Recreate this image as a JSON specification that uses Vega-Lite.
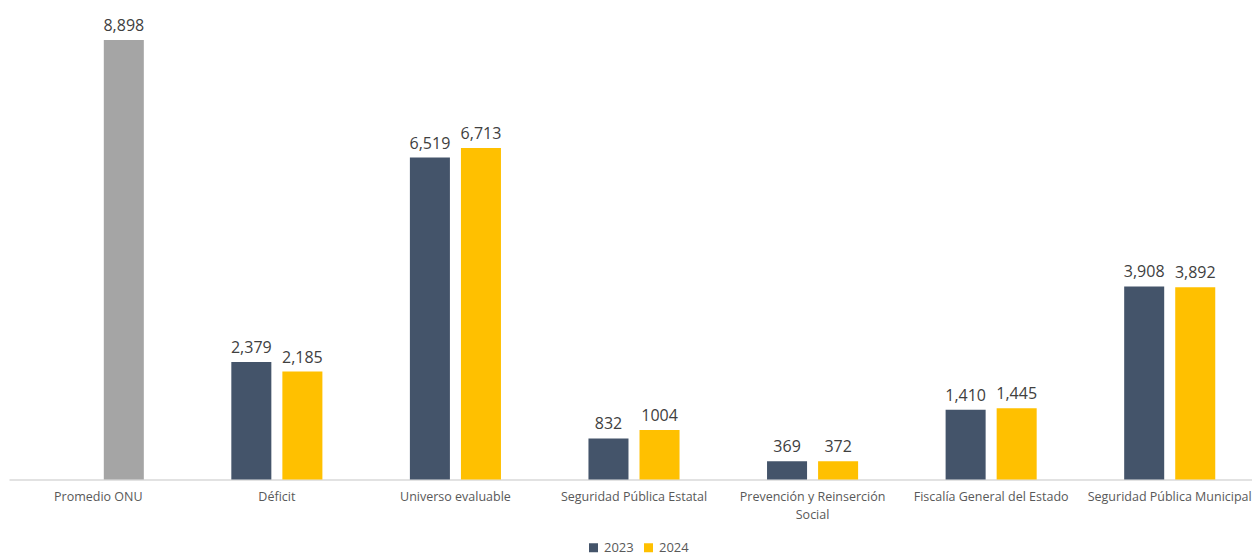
{
  "$schema": "https://vega.github.io/schema/vega-lite/v6.json",
  "autosize": {"type": "none"},
  "padding": {"left": 9, "top": 35, "right": 0, "bottom": 75},
  "width": 1250,
  "height": 444.5,
  "background": "white",
  "config": {"view": {"stroke": null}, "font": "Open Sans"},
  "data": {
    "values": [
      {"categoria": "Promedio ONU", "anio": "2024", "serie": "ONU", "valor": 8898, "etiqueta": "8,898"},
      {"categoria": "Déficit", "anio": "2023", "serie": "2023", "valor": 2379, "etiqueta": "2,379"},
      {"categoria": "Déficit", "anio": "2024", "serie": "2024", "valor": 2185, "etiqueta": "2,185"},
      {"categoria": "Universo evaluable", "anio": "2023", "serie": "2023", "valor": 6519, "etiqueta": "6,519"},
      {"categoria": "Universo evaluable", "anio": "2024", "serie": "2024", "valor": 6713, "etiqueta": "6,713"},
      {"categoria": "Seguridad Pública Estatal", "anio": "2023", "serie": "2023", "valor": 832, "etiqueta": "832"},
      {"categoria": "Seguridad Pública Estatal", "anio": "2024", "serie": "2024", "valor": 1004, "etiqueta": "1004"},
      {"categoria": "Prevención y Reinserción Social", "anio": "2023", "serie": "2023", "valor": 369, "etiqueta": "369"},
      {"categoria": "Prevención y Reinserción Social", "anio": "2024", "serie": "2024", "valor": 372, "etiqueta": "372"},
      {"categoria": "Fiscalía General del Estado", "anio": "2023", "serie": "2023", "valor": 1410, "etiqueta": "1,410"},
      {"categoria": "Fiscalía General del Estado", "anio": "2024", "serie": "2024", "valor": 1445, "etiqueta": "1,445"},
      {"categoria": "Seguridad Pública Municipal", "anio": "2023", "serie": "2023", "valor": 3908, "etiqueta": "3,908"},
      {"categoria": "Seguridad Pública Municipal", "anio": "2024", "serie": "2024", "valor": 3892, "etiqueta": "3,892"}
    ]
  },
  "encoding": {
    "x": {
      "field": "categoria",
      "type": "nominal",
      "sort": ["Promedio ONU", "Déficit", "Universo evaluable", "Seguridad Pública Estatal", "Prevención y Reinserción Social", "Fiscalía General del Estado", "Seguridad Pública Municipal"],
      "scale": {"paddingInner": 0.49, "paddingOuter": 0.245},
      "axis": {
        "title": null,
        "labelAngle": 0,
        "labelFontSize": 12.5,
        "labelColor": "#595959",
        "labelPadding": 11,
        "labelLimit": 0,
        "labelLineHeight": 18,
        "ticks": false,
        "domainColor": "#D9D9D9",
        "domainWidth": 1.5,
        "labelExpr": "datum.value == 'Prevención y Reinserción Social' ? ['Prevención y Reinserción', 'Social'] : datum.value"
      }
    },
    "xOffset": {
      "field": "anio",
      "type": "nominal",
      "scale": {"domain": ["2023", "2024"], "paddingInner": 0.216, "paddingOuter": 0}
    },
    "y": {
      "field": "valor",
      "type": "quantitative",
      "scale": {"domain": [0, 9000], "nice": false},
      "axis": null
    }
  },
  "layer": [
    {
      "mark": {"type": "bar"},
      "encoding": {
        "color": {
          "field": "serie",
          "type": "nominal",
          "scale": {"domain": ["2023", "2024", "ONU"], "range": ["#44546A", "#FFC000", "#A5A5A5"]},
          "legend": {
            "values": ["2023", "2024"],
            "title": null,
            "orient": "none",
            "direction": "horizontal",
            "legendX": 578,
            "legendY": 506,
            "symbolType": "square",
            "symbolSize": 81,
            "symbolStrokeWidth": 0,
            "labelFontSize": 13,
            "labelColor": "#595959",
            "columnPadding": 8,
            "labelOffset": 4
          }
        }
      }
    },
    {
      "mark": {"type": "text", "dy": -9, "baseline": "alphabetic", "fontSize": 16, "color": "#404040"},
      "encoding": {"text": {"field": "etiqueta"}}
    }
  ]
}
